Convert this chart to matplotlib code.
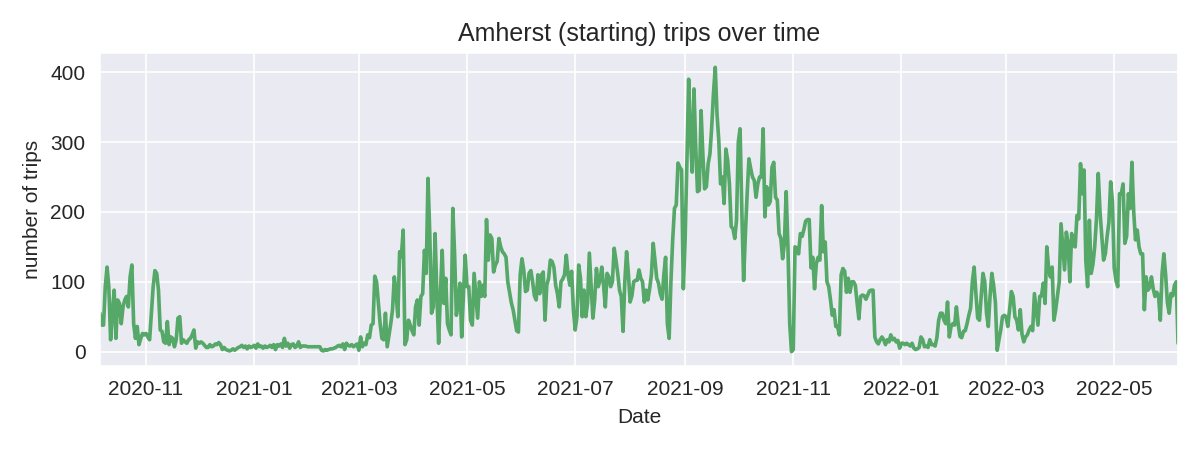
import matplotlib
matplotlib.use("Agg")
import matplotlib.pyplot as plt
import matplotlib.dates as mdates
import numpy as np
import pandas as pd
import seaborn as sns

# Daily trip counts
start_date = "2020-10-06"

trips_fall_2020 = [
    55, 38, 38, 93, 121, 93, 17, 55, 88, 19,
    74, 69, 40, 64, 74, 79, 64, 107, 124, 40,
    19, 36, 10, 19, 26, 24, 26, 21, 17, 55,
    93, 116, 112, 88, 31, 29, 14, 12, 43, 10,
    21, 19, 7, 17, 48, 50, 12, 17, 14, 12,
    17, 19, 24, 31, 5, 14, 12, 14, 12, 9,
    6, 6, 10, 7, 8, 11, 10, 13, 10, 3,
    6, 3, 2, 1, 2, 4,
    2, 4, 6, 7, 9, 6, 8, 4, 8, 6,
    7,
]

trips_h1_2021 = [
    9, 5, 11, 7, 8, 5, 8, 6, 7,
    9, 6, 10, 3, 10, 8, 11, 6, 19, 8,
    12, 5, 10, 11, 6, 8, 14, 6,
    8, 8, 8, 7, 7, 7, 7, 7, 7, 7, 7,
    2, 1, 3, 2, 3, 4, 4, 5, 6, 8,
    9, 7, 11, 3, 12, 9, 8, 10, 7, 9,
    11, 2, 21, 7, 12,
    10, 24, 20, 38, 40, 108, 100, 70, 40, 19,
    17, 55, 7, 24, 40, 60, 107, 83, 50, 143,
    136, 174, 10, 17, 45, 38, 30, 24, 64, 74,
    38, 79, 83, 145, 112, 248, 169, 55, 64, 169,
    83, 12, 83, 145, 69, 105, 40, 31, 24, 205,
    140, 52, 69, 98, 21, 83, 138, 93, 93, 45,
    38, 112, 79, 48, 100, 79, 95, 79, 189, 131,
    167, 162, 114, 124, 129, 162, 150, 143, 140, 135,
    100, 85, 70, 60, 45, 30, 28, 110, 133, 117,
    86, 88, 112, 116, 100, 80, 74, 110, 83, 110,
    114, 45, 95, 105, 131, 129, 121, 95, 83, 64,
    100, 104, 110, 138, 110, 95, 115, 60,
]

trips_h2_2021 = [
    31, 50,
    124, 105, 50, 88, 50, 70, 141, 95, 48, 74,
    119, 93, 102, 121, 95, 64, 112, 107, 93, 100,
    148, 131, 112, 88, 79, 29, 100, 143, 112, 71,
    80, 100, 102, 102, 117, 105, 100, 71, 88, 74,
    90, 110, 155, 131, 105, 98, 83, 75, 110, 135,
    40, 19, 100, 160, 205, 210, 270, 264, 260, 90,
    160, 270, 390, 310, 257, 376, 293, 229, 231, 345,
    283, 233, 236, 269, 283, 321, 370, 407, 340, 302,
    240, 250, 212, 290, 274, 240, 179, 176, 162, 188,
    300, 319, 200, 102, 169, 226, 276, 262, 250, 245,
    221, 240, 250, 250, 319, 193, 236, 210, 215, 264,
    271, 221, 217, 169, 162, 133, 155, 229, 150, 40,
    0, 3, 150, 148, 140, 169, 165, 175, 187, 189,
    189, 120, 135, 90, 126, 135, 131, 209, 143, 157,
    100, 93, 74, 52, 60, 36, 36, 24, 110, 119,
    115, 85, 105, 85, 100, 100, 95, 70, 47, 79,
    81, 80, 75, 81, 87, 88, 88, 21, 14, 11,
    17, 21, 17, 10, 17, 14, 24, 17, 19, 14,
    16, 5,
]

trips_h1_2022 = [
    12, 12, 10, 12, 10, 8, 12, 5,
    3, 4, 6, 21, 17, 7, 8, 6, 17, 10,
    10, 8, 20, 45, 55, 55, 45, 40, 71, 21,
    36, 40, 38, 64, 40, 22, 20, 29, 30, 40,
    52, 62, 100, 121, 83, 48, 45, 80, 112, 100,
    55, 36, 80, 112, 95, 70, 2, 17, 31, 50,
    52, 50, 36, 60, 86, 79, 50, 45, 31, 60,
    25, 14, 21, 24, 31, 36, 30, 83, 60, 38,
    79, 80, 98, 69, 150, 120, 107, 121, 45, 60,
    80, 100, 183, 150, 117, 171, 155, 100, 169, 152,
    150, 195, 190, 269, 226, 260, 130, 93, 188, 112,
    125, 150, 190, 255, 200, 165, 131, 140, 165, 185,
    243, 215, 120, 102, 93, 226, 226, 240, 155, 165,
    226, 205, 271, 200, 160, 174, 150, 140, 140, 60,
    107, 88, 92, 107, 90, 79, 85, 80, 45, 112,
    140, 110, 70, 55, 83, 80, 95, 100, 12,
]

title = "Amherst (starting) trips over time"
xlabel = "Date"
ylabel = "number of trips"

trips = trips_fall_2020 + trips_h1_2021 + trips_h2_2021 + trips_h1_2022
dates = pd.date_range(start_date, periods=len(trips), freq="D")

sns.set_style("darkgrid")
plt.rcParams["font.family"] = ["Liberation Sans", "DejaVu Sans"]

fig, ax = plt.subplots(figsize=(8, 3), dpi=150)
fig.subplots_adjust(left=0.0833, right=0.9817, top=0.882, bottom=0.187)

ax.plot(dates, trips, color="#55a868", linewidth=1.75)
ax.set_xlim(dates[0], dates[-1])

ax.xaxis.set_major_locator(mdates.MonthLocator(bymonth=[1, 3, 5, 7, 9, 11]))
ax.xaxis.set_major_formatter(mdates.DateFormatter("%Y-%m"))
ax.set_yticks([0, 100, 200, 300, 400])

ax.tick_params(labelsize=10, colors="#262626")
ax.set_title(title, fontsize=12, color="#262626")
ax.set_xlabel(xlabel, fontsize=10, color="#262626")
ax.set_ylabel(ylabel, fontsize=10, color="#262626")

fig.savefig("out.png", dpi=150)
